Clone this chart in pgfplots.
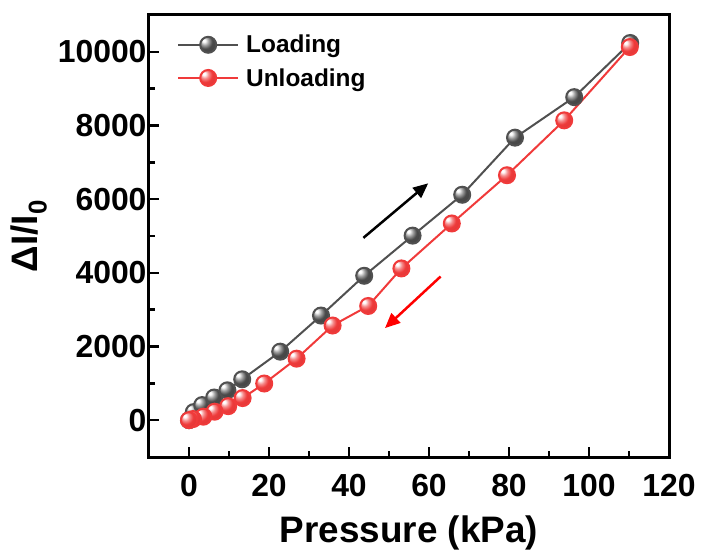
\documentclass[border=0pt]{standalone}
\usepackage{pgfplots}
\pgfplotsset{compat=1.18}
\usepackage{fontspec}
\setmainfont{Liberation Sans}
\usetikzlibrary{arrows.meta}

\definecolor{loadgray}{HTML}{4A4A4A}
\definecolor{loadline}{HTML}{505050}
\definecolor{unloadred}{HTML}{EE3B3B}
\definecolor{unloadline}{HTML}{F03A3A}

% glossy spheres used as plot marks
\pgfdeclareradialshading{graysphere}{\pgfpoint{-14bp}{14bp}}{%
  color(0bp)=(white); color(4bp)=(white); color(13bp)=(loadgray!55!white);
  color(22bp)=(loadgray); color(45bp)=(loadgray!85!black); color(70bp)=(loadgray!60!black)}
\pgfdeclareradialshading{redsphere}{\pgfpoint{-14bp}{14bp}}{%
  color(0bp)=(white); color(4bp)=(white); color(13bp)=(unloadred!60!white);
  color(22bp)=(unloadred); color(45bp)=(unloadred!88!black); color(70bp)=(unloadred!65!black)}
\pgfdeclareplotmark{grayball}{\shade[shading=graysphere] (0pt,0pt) circle (\pgfplotmarksize);}
\pgfdeclareplotmark{redball}{\shade[shading=redsphere] (0pt,0pt) circle (\pgfplotmarksize);}

\pgfplotstableread{
P      dI
0      0
1.2    220
3.3    410
6.3    615
9.6    810
13.3   1110
22.8   1860
33.0   2840
43.8   3920
55.9   5010
68.3   6120
81.5   7670
96.3   8770
110.3  10240
}\loading

\pgfplotstableread{
P      dI
110.2  10130
93.8   8140
79.5   6650
65.7   5340
53.1   4120
44.8   3100
35.9   2570
26.9   1670
18.8   995
13.4   600
9.8    380
6.4    230
3.6    95
1.0    30
0      0
}\unloading

\begin{document}
\begin{tikzpicture}
\begin{axis}[
  scale only axis,
  width=520bp, height=442bp,
  xmin=-10, xmax=120, ymin=-1000, ymax=11000,
  xtick={0,20,...,120}, ytick={0,2000,...,10000},
  minor x tick num=1, minor y tick num=1,
  xtick pos=left, ytick pos=left,
  tick align=inside,
  major tick length=10bp, minor tick length=6bp,
  every tick/.style={black, line width=2.5bp},
  axis line style={line width=3bp},
  scaled y ticks=false,
  /pgf/number format/assume math mode=true,
  /pgf/number format/set thousands separator={},
  ticklabel style={font=\bfseries\fontsize{32}{32}\selectfont},
  xticklabel style={yshift=-14bp},
  yticklabel style={xshift=1bp},
  xlabel={Pressure (kPa)},
  ylabel={ΔI/I\textsubscript{0}},
  label style={font=\bfseries\fontsize{37}{37}\selectfont},
  xlabel style={yshift=-12bp},
  ylabel style={yshift=4bp},
  legend style={draw=none, fill=none, at={(axis description cs:0,1)},
    anchor=north west, xshift=28bp, yshift=-18bp, inner sep=0pt,
    font=\bfseries\fontsize{24.5}{24.5}\selectfont, row sep=10bp,
    nodes={inner xsep=7bp}},
  legend cell align=left,
  legend image code/.code={%
    \draw[mark repeat=2,mark phase=2,#1] plot coordinates {(0bp,0bp)(30bp,0bp)(60bp,0bp)};},
]
\addplot[loadline, line width=2bp, mark=grayball, mark size=8bp] table[x=P,y=dI] {\loading};
\addlegendentry{Loading}
\addplot[unloadline, line width=2bp, mark=redball, mark size=8bp] table[x=P,y=dI] {\unloading};
\addlegendentry{Unloading}

\draw[black, line width=2.5bp, -{Triangle[length=15bp,width=13bp]}]
  (axis cs:43.6,4950) -- (axis cs:59.8,6430);
\draw[red, line width=2.5bp, -{Triangle[length=15bp,width=13bp]}]
  (axis cs:62.9,3900) -- (axis cs:49.0,2500);
\end{axis}
\pgfresetboundingbox
\path (-149bp,-95bp) rectangle (553bp,457bp);
\end{tikzpicture}
\end{document}
